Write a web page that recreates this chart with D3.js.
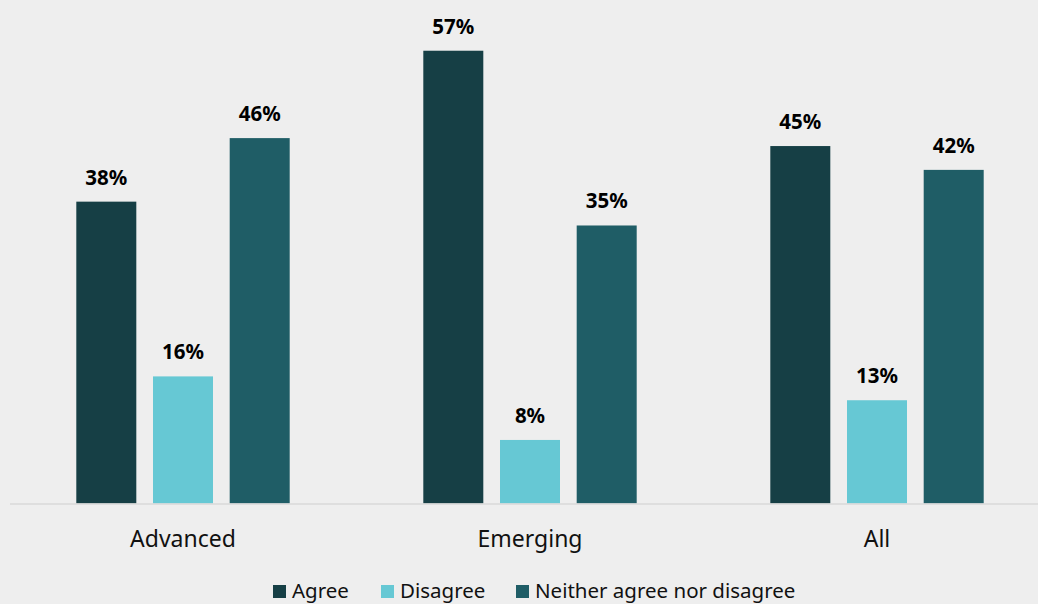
<!DOCTYPE html>
<html><head><meta charset="utf-8">
<script src="https://cdn.jsdelivr.net/npm/d3@7/dist/d3.min.js"></script>
<style>html,body{margin:0;padding:0;background:#eeeeee;}svg{display:block;}</style>
</head><body>
<svg id="chart" width="1038" height="604"></svg>
<script>
const categories = ["Advanced", "Emerging", "All"];
const seriesNames = ["Agree", "Disagree", "Neither agree nor disagree"];
const agree = [38, 57, 45];
const disagree = [16, 8, 13];
const neither = [46, 35, 42];
const colors = ["#163f45", "#66c8d4", "#1f5d66"];

const values = [agree, disagree, neither];
const svg = d3.select("#chart");
const W = 1038, H = 604;
svg.append("rect").attr("width", W).attr("height", H).attr("fill", "#eeeeee");

const x0 = d3.scaleBand().domain(categories).range([9.5, 1050.5]).paddingInner(0).paddingOuter(0);
const x1 = d3.scaleBand().domain(seriesNames).range([0, x0.bandwidth()]).paddingInner(0.2177).paddingOuter(0.871);
const y = d3.scaleLinear().domain([0, 60]).range([503.5, 26.9]);

const data = [];
categories.forEach((c, i) => seriesNames.forEach((s, j) => data.push({c, s, j, v: values[j][i]})));

const g = svg.append("g");
g.selectAll("rect.bar").data(data).join("rect").attr("class", "bar")
  .attr("x", d => x0(d.c) + x1(d.s))
  .attr("width", x1.bandwidth())
  .attr("y", d => y(d.v))
  .attr("height", d => y(0) - y(d.v))
  .attr("fill", d => colors[d.j]);

g.selectAll("text.val").data(data).join("text").attr("class", "val")
  .attr("x", d => x0(d.c) + x1(d.s) + x1.bandwidth() / 2)
  .attr("y", d => y(d.v) - 17)
  .attr("text-anchor", "middle")
  .attr("font-family", "'Noto Sans', sans-serif")
  .attr("font-weight", "bold")
  .attr("font-size", 20.5)
  .attr("fill", "#000")
  .text(d => d.v + "%");

// axis
const axis = d3.axisBottom(x0).tickSize(0).tickPadding(0);
const ax = svg.append("g").attr("transform", `translate(0,${y(0)})`).call(axis);
ax.select(".domain").remove();
ax.append("line").attr("x1", 10).attr("x2", 1038).attr("y1", 0.5).attr("y2", 0.5)
  .attr("stroke", "#d9d9d9").attr("stroke-width", 1.5);
ax.selectAll(".tick text")
  .attr("y", 43).attr("dy", 0)
  .attr("font-family", "'Noto Sans', sans-serif")
  .attr("font-size", 23)
  .attr("fill", "#111");

// legend
const legendX = [273, 381, 516];
const lg = svg.append("g");
seriesNames.forEach((s, j) => {
  lg.append("rect").attr("x", legendX[j]).attr("y", 585).attr("width", 13).attr("height", 13).attr("fill", colors[j]);
  lg.append("text").attr("x", legendX[j] + 19).attr("y", 598)
    .attr("font-family", "'Noto Sans', sans-serif").attr("font-size", 20.5).attr("fill", "#111").text(s);
});
</script>
</body></html>
